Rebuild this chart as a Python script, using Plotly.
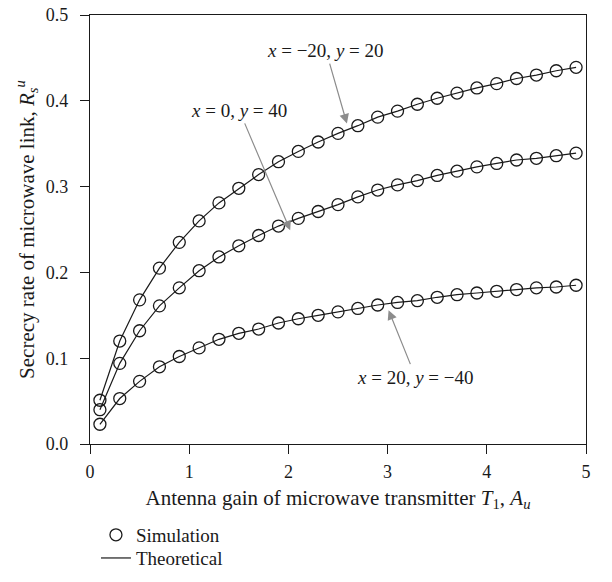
import plotly.graph_objects as go

x_vals = [0.1, 0.3, 0.5, 0.7, 0.9, 1.1, 1.3, 1.5, 1.7, 1.9, 2.1, 2.3, 2.5,
          2.7, 2.9, 3.1, 3.3, 3.5, 3.7, 3.9, 4.1, 4.3, 4.5, 4.7, 4.9]

# x = -20, y = 20
series_a = [0.051, 0.120, 0.168, 0.205, 0.235, 0.260, 0.281, 0.298, 0.314, 0.329,
            0.341, 0.352, 0.362, 0.371, 0.381, 0.388, 0.396, 0.403, 0.409, 0.415,
            0.420, 0.426, 0.430, 0.435, 0.439]
# x = 0, y = 40
series_b = [0.040, 0.094, 0.132, 0.161, 0.182, 0.202, 0.218, 0.231, 0.243, 0.254,
            0.263, 0.271, 0.279, 0.288, 0.296, 0.302, 0.307, 0.313, 0.318, 0.323,
            0.327, 0.331, 0.333, 0.336, 0.339]
# x = 20, y = -40
series_c = [0.023, 0.053, 0.073, 0.090, 0.102, 0.112, 0.122, 0.129, 0.134, 0.141,
            0.146, 0.150, 0.154, 0.158, 0.162, 0.165, 0.167, 0.171, 0.174, 0.176,
            0.178, 0.180, 0.182, 0.183, 0.185]

x_ticks = [0, 1, 2, 3, 4, 5]
y_ticks = [0.0, 0.1, 0.2, 0.3, 0.4, 0.5]
y_tick_labels = ["0.0", "0.1", "0.2", "0.3", "0.4", "0.5"]

# label text, arrow head (data), label centre offset from head (px)
label_texts = ["<i>x</i> = −20, <i>y</i> = 20",
               "<i>x</i> = 0, <i>y</i> = 40",
               "<i>x</i> = 20, <i>y</i> = −40"]
arrow_heads = [(2.59, 0.3734), (2.018, 0.249), (3.01, 0.156)]
label_offsets = [(-21, -73), (-51, -120), (27, 67)]

FONT = "Liberation Serif"
BLACK = "#1a1a1a"
GRAY = "#8c8c8c"

fig = go.Figure()

for s in [series_a, series_b, series_c]:
    fig.add_trace(go.Scatter(
        x=x_vals, y=s, mode="lines",
        line=dict(color=BLACK, width=1.2),
        name="Theoretical", showlegend=False,
    ))
for i, s in enumerate([series_a, series_b, series_c]):
    fig.add_trace(go.Scatter(
        x=x_vals, y=s, mode="markers",
        marker=dict(symbol="circle-open", size=12, color=BLACK,
                    line=dict(width=1.3, color=BLACK)),
        name="Simulation", legend="legend", showlegend=(i == 0),
    ))
fig.add_trace(go.Scatter(
    x=[None], y=[None], mode="lines",
    line=dict(color=BLACK, width=1.2),
    name="Theoretical", legend="legend2", showlegend=True,
))

for txt, (hx, hy), (ax, ay) in zip(label_texts, arrow_heads, label_offsets):
    fig.add_annotation(x=hx, y=hy, ax=ax, ay=ay, text=txt, showarrow=True,
                       arrowhead=2, arrowsize=1.6, arrowwidth=1.2,
                       arrowcolor=GRAY, standoff=0, borderpad=2,
                       font=dict(family=FONT, size=19, color=BLACK))

legend_style = dict(xanchor="left", yanchor="middle", bgcolor="rgba(0,0,0,0)",
                    font=dict(family=FONT, size=19, color=BLACK), itemwidth=30)

fig.update_layout(
    width=612, height=582,
    margin=dict(l=90, r=26, t=15, b=138, autoexpand=False),
    paper_bgcolor="white", plot_bgcolor="white",
    font=dict(family=FONT, size=18, color=BLACK),
    showlegend=True,
    legend=dict(x=0.012, y=-0.212, **legend_style),
    legend2=dict(x=0.012, y=-0.266, **legend_style),
    xaxis=dict(range=[0, 5], tickvals=x_ticks, ticks="outside", ticklen=9,
               tickwidth=1.3, tickcolor=BLACK, showline=True, linecolor=BLACK,
               linewidth=1.4, mirror=True, showgrid=False, zeroline=False,
               ticklabelstandoff=2, automargin=False,
               tickfont=dict(family=FONT, size=18, color=BLACK),
               title=dict(text="Antenna gain of microwave transmitter <i>T</i><sub>1</sub>, <i>A</i><sub><i>u</i></sub>",
                          font=dict(family=FONT, size=21, color=BLACK), standoff=9)),
    yaxis=dict(range=[0, 0.5], tickvals=y_ticks, ticktext=y_tick_labels, ticks="outside",
               ticklen=9, tickwidth=1.3, tickcolor=BLACK, showline=True,
               linecolor=BLACK, linewidth=1.4, mirror=True, showgrid=False,
               zeroline=False, ticklabelstandoff=8, automargin=False,
               tickfont=dict(family=FONT, size=18, color=BLACK),
               title=dict(text="Secrecy rate of microwave link, <i>R</i><sub><i>s</i></sub><sup><i>u</i></sup>",
                          font=dict(family=FONT, size=21, color=BLACK), standoff=5)),
)

fig.write_html("out.html")
